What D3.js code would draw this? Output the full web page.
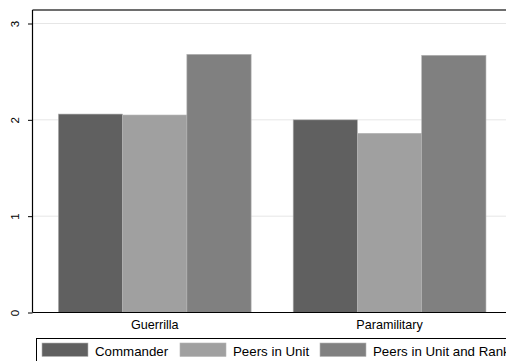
<!DOCTYPE html>
<html>
<head>
<meta charset="utf-8">
<script src="https://cdn.jsdelivr.net/npm/d3@7"></script>
<style>
  html, body { margin: 0; padding: 0; background: #fff; }
  svg { display: block; font-family: "Liberation Sans", Arial, sans-serif; }
</style>
</head>
<body>
<svg id="chart" width="506" height="361"></svg>
<script>
// Mean ratings by unit type and reference group
const categories = ["Guerrilla", "Paramilitary"];
const seriesNames = ["Commander", "Peers in Unit", "Peers in Unit and Rank"];
const commander = [2.06, 2.00];
const peersInUnit = [2.05, 1.86];
const peersInUnitAndRank = [2.68, 2.67];
const yTicks = [0, 1, 2, 3];
const seriesColors = ["#606060", "#a0a0a0", "#808080"];

const seriesValues = [commander, peersInUnit, peersInUnitAndRank];

const svg = d3.select("#chart");
const plot = { left: 32.5, right: 511.8, top: 10, bottom: 312.5 };

const y = d3.scaleLinear().domain([0, 3]).range([plot.bottom, 23.5]);
const x0 = d3.scaleBand().domain(categories)
  .range([plot.left, plot.right]).paddingInner(0.179).paddingOuter(0.11);
const x1 = d3.scaleBand().domain(seriesNames).range([0, x0.bandwidth()]).padding(0);

// Gridlines
svg.append("g")
  .selectAll("line")
  .data(yTicks.filter(d => d > 0))
  .join("line")
  .attr("x1", plot.left).attr("x2", plot.right)
  .attr("y1", d => y(d)).attr("y2", d => y(d))
  .attr("stroke", "#e6e6e6").attr("stroke-width", 1);

// Bars
const groups = svg.append("g")
  .selectAll("g")
  .data(categories)
  .join("g")
  .attr("transform", d => `translate(${x0(d)},0)`);

groups.selectAll("rect")
  .data((c, ci) => seriesNames.map((s, si) => ({ s, si, v: seriesValues[si][ci] })))
  .join("rect")
  .attr("x", d => x1(d.s))
  .attr("y", d => y(d.v))
  .attr("width", x1.bandwidth())
  .attr("height", d => y(0) - y(d.v))
  .attr("fill", d => seriesColors[d.si])
  .attr("stroke", "#b4b4b4")
  .attr("stroke-width", 0.6);

// Top border
svg.append("line")
  .attr("x1", plot.left).attr("x2", 506)
  .attr("y1", plot.top).attr("y2", plot.top)
  .attr("stroke", "#6e6e6e").attr("stroke-width", 2);

// Y axis
const yAxis = svg.append("g")
  .attr("transform", `translate(${plot.left},0)`)
  .call(d3.axisLeft(y).tickValues(yTicks).tickSize(4.5).tickFormat(d3.format("d")));
yAxis.select(".domain").attr("d", `M0,${plot.top}V${plot.bottom}`).attr("stroke", "#000").attr("stroke-width", 1.2);
yAxis.selectAll(".tick line").attr("stroke", "#000");
yAxis.selectAll(".tick text")
  .attr("x", 0).attr("dy", null)
  .attr("transform", "translate(-14,0) rotate(-90)")
  .attr("text-anchor", "middle")
  .attr("dominant-baseline", "auto")
  .attr("font-size", 11.5)
  .attr("font-family", "Liberation Sans, Arial, sans-serif")
  .attr("fill", "#000");

// X axis
const xAxis = svg.append("g")
  .attr("transform", `translate(0,${plot.bottom})`)
  .call(d3.axisBottom(x0).tickSize(0).tickPadding(0));
xAxis.select(".domain").attr("d", `M${plot.left},0H506`).attr("stroke", "#000").attr("stroke-width", 1.2);
xAxis.selectAll(".tick text")
  .attr("y", 16).attr("dy", null)
  .attr("font-size", 12.6)
  .attr("font-family", "Liberation Sans, Arial, sans-serif")
  .attr("fill", "#000");

// Legend
const legend = svg.append("g");
legend.append("rect")
  .attr("x", 36.5).attr("y", 338.5)
  .attr("width", 480).attr("height", 40)
  .attr("fill", "#fff").attr("stroke", "#000").attr("stroke-width", 1);

const legendX = [42, 180, 320];
const items = legend.selectAll("g.item")
  .data(seriesNames)
  .join("g")
  .attr("class", "item")
  .attr("transform", (d, i) => `translate(${legendX[i]},343)`);
items.append("rect")
  .attr("width", 46).attr("height", 13.5)
  .attr("fill", (d, i) => seriesColors[i])
  .attr("stroke", "#b4b4b4").attr("stroke-width", 0.6);
items.append("text")
  .attr("x", 53).attr("y", 12.5)
  .attr("font-size", 13.3)
  .attr("fill", "#000")
  .text(d => d);
</script>
</body>
</html>
